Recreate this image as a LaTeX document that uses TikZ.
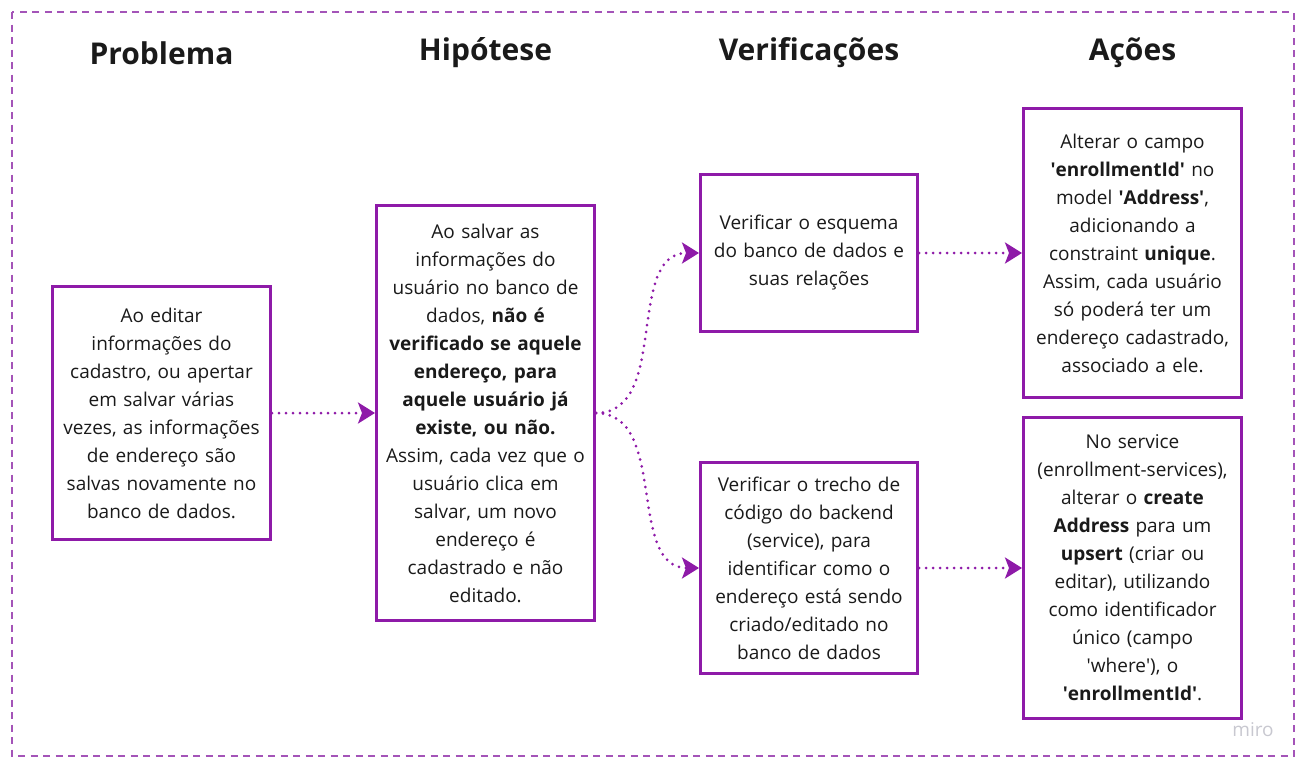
\documentclass[tikz,border=0pt]{standalone}
\usepackage{fontspec}
\setmainfont{Open Sans}
\usetikzlibrary{arrows.meta}
\definecolor{boxline}{RGB}{142,26,168}
\definecolor{frameline}{RGB}{164,84,184}
\definecolor{textdark}{RGB}{26,26,26}
\definecolor{watermark}{RGB}{200,200,208}
\newcommand{\apos}{\textquotesingle}
\begin{document}
\begin{tikzpicture}[
    x=1pt, y=-1pt,
    title/.style={font=\fontsize{30}{36}\selectfont\bfseries, text=textdark},
    card/.style={rectangle, draw=boxline, line width=3pt, fill=white, text width=214pt, align=center, inner sep=0pt, text=textdark, font=\fontsize{19}{28}\selectfont},
    flow/.style={draw=boxline, line width=3pt, line cap=round, dash pattern=on 0pt off 7pt, -{Stealth[length=17pt, width=21pt, inset=4pt, line cap=butt, sep=0pt]}},
    frame/.style={draw=frameline, line width=1.6pt, dash pattern=on 7pt off 5.5pt}
]
\useasboundingbox (0,0) rectangle (1303,766);

% Frame
\draw[frame] (12,12) rectangle (1294,756);

% Column titles
\node[title] (t-problema) at (161.5,53) {Problema};
\node[title] (t-hipotese) at (485.5,53) {Hipótese};
\node[title] (t-verif) at (809,53) {Verificações};
\node[title] (t-acoes) at (1132.5,53) {Ações};

% Problem and hypothesis
\node[card, minimum width=218pt, minimum height=253pt] (problema) at (161.5,413)
    {Ao editar\\informações do\\cadastro, ou apertar\\em salvar várias\\vezes, as informações\\de endereço são\\salvas novamente no\\banco de dados.};
\node[card, minimum width=218pt, minimum height=415pt] (hipotese) at (485.5,413)
    {Ao salvar as\\informações do\\usuário no banco de\\dados, \textbf{não é}\\\textbf{verificado se aquele}\\\textbf{endereço, para}\\\textbf{aquele usuário já}\\\textbf{existe, ou não.}\\Assim, cada vez que o\\usuário clica em\\salvar, um novo\\endereço é\\cadastrado e não\\editado.};

% Checks
\node[card, minimum width=217pt, minimum height=157pt] (verif-esquema) at (809,253)
    {Verificar o esquema\\do banco de dados e\\suas relações};
\node[card, minimum width=217pt, minimum height=211pt] (verif-backend) at (809,568)
    {Verificar o trecho de\\código do backend\\(service), para\\identificar como o\\endereço está sendo\\criado/editado no\\banco de dados};

% Actions
\node[card, minimum width=218pt, minimum height=289pt] (acao-unique) at (1132.5,253)
    {Alterar o campo\\\textbf{\apos enrollmentId\apos} no\\model \textbf{\apos Address\apos},\\adicionando a\\constraint \textbf{unique}.\\Assim, cada usuário\\só poderá ter um\\endereço cadastrado,\\associado a ele.};
\node[card, minimum width=218pt, minimum height=301pt] (acao-upsert) at (1132.5,568)
    {No service\\(enrollment-services),\\alterar o \textbf{create}\\\textbf{Address} para um\\\textbf{upsert} (criar ou\\editar), utilizando\\como identificador\\único (campo\\\apos where\apos), o\\\textbf{\apos enrollmentId\apos}.};

% Watermark
\node[text=watermark, font=\fontsize{19}{22}\selectfont] (miro) at (1253,730) {miro};

% Connections
\draw[flow] (problema) -- (hipotese);
\draw[flow] (hipotese.east) to[out=0, in=180] (verif-esquema.west);
\draw[flow] (hipotese.east) to[out=0, in=180] (verif-backend.west);
\draw[flow] (verif-esquema) -- (acao-unique);
\draw[flow] (verif-backend) -- (acao-upsert);

\end{tikzpicture}
\end{document}
